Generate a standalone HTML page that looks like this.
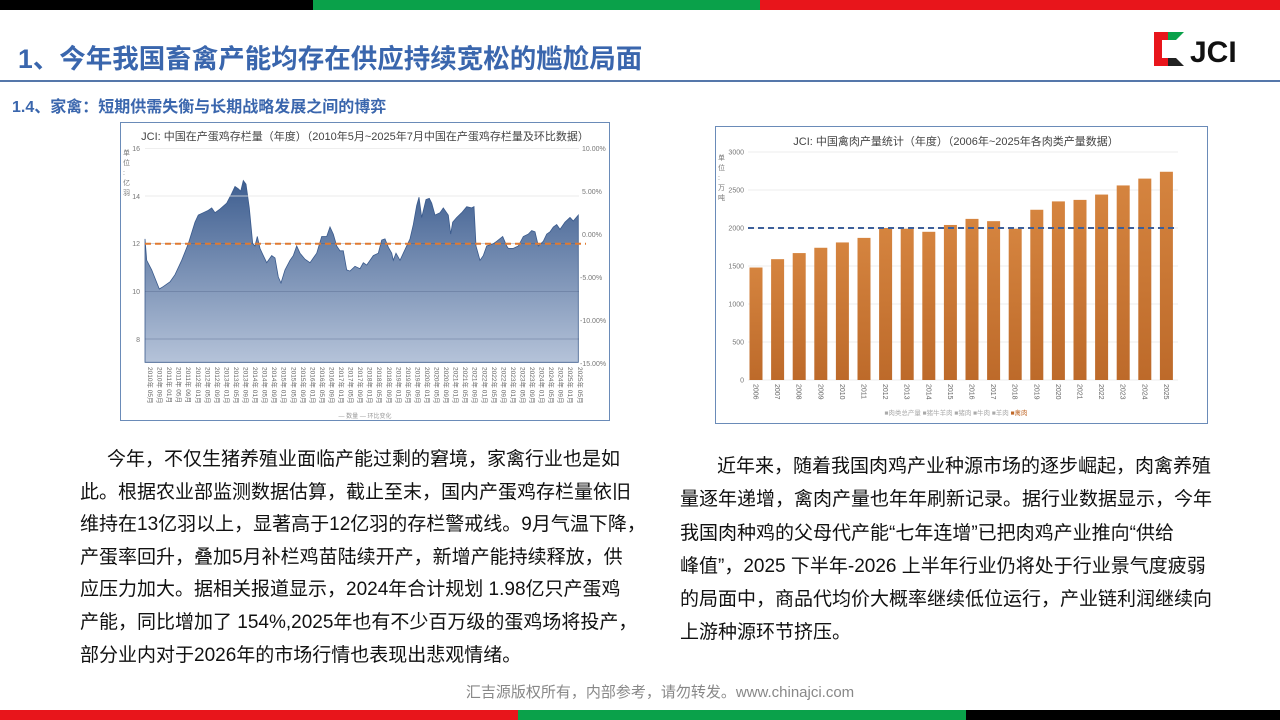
<!DOCTYPE html>
<html><head><meta charset="utf-8">
<style>
*{margin:0;padding:0;box-sizing:border-box}
body{width:1280px;height:720px;position:relative;background:#fff;overflow:hidden;font-family:"Liberation Sans","Noto Sans CJK SC",sans-serif}
.a{position:absolute}
.t{color:#3a66ad;font-weight:bold}
.p{font-size:19px;color:#111;line-height:32.6px;white-space:nowrap}
</style></head><body>
<div class="a" style="left:0;top:0;width:313px;height:10px;background:#000"></div>
<div class="a" style="left:313px;top:0;width:447px;height:10px;background:#0aa14a"></div>
<div class="a" style="left:760px;top:0;width:520px;height:10px;background:#e8151b"></div>
<div class="a" style="left:0;top:710px;width:518px;height:10px;background:#e8151b"></div>
<div class="a" style="left:518px;top:710px;width:448px;height:10px;background:#0aa14a"></div>
<div class="a" style="left:966px;top:710px;width:314px;height:10px;background:#000"></div>
<div class="a t" style="left:18px;top:37px;font-size:26.5px;white-space:nowrap">1、今年我国畜禽产能均存在供应持续宽松的尴尬局面</div>
<div class="a" style="left:0;top:80px;width:1280px;height:2px;background:#5577aa"></div>
<div class="a t" style="left:12px;top:93px;font-size:16px;white-space:nowrap">1.4、家禽：短期供需失衡与长期战略发展之间的博弈</div>
<svg class="a" style="left:1150px;top:30px" width="115" height="42" viewBox="0 0 115 42">
<path d="M4 2h22v8H12v18h14v8H4z" fill="#e8151b"/>
<path d="M18 2h16l-8 8h-8z" fill="#0aa14a"/><path d="M18 36h16l-8-8h-8z" fill="#222"/>
<text x="40" y="32" font-size="30" font-weight="bold" font-family="Liberation Sans" fill="#111">JCI</text>
</svg>
<svg class="a" style="left:120px;top:120px" width="490" height="302">
<rect x="0.5" y="2.5" width="489" height="298" fill="#fff" stroke="#6a8bb8"/>
<text x="245" y="20" text-anchor="middle" font-size="11" fill="#444">JCI: 中国在产蛋鸡存栏量（年度）（2010年5月~2025年7月中国在产蛋鸡存栏量及环比数据）</text>
<g font-size="7" fill="#777"><text x="20" y="31" text-anchor="end">16</text><text x="20" y="79" text-anchor="end">14</text><text x="20" y="126" text-anchor="end">12</text><text x="20" y="174" text-anchor="end">10</text><text x="20" y="222" text-anchor="end">8</text>
<text x="462" y="31">10.00%</text><text x="462" y="74">5.00%</text><text x="462" y="117">0.00%</text><text x="460" y="160">-5.00%</text><text x="460" y="203">-10.00%</text><text x="460" y="246">-15.00%</text>
<text x="3" y="35">单</text><text x="3" y="45">位</text><text x="3" y="55">:</text><text x="3" y="65">亿</text><text x="3" y="75">羽</text></g>
<defs><linearGradient id="g" x1="0" y1="0" x2="0" y2="1"><stop offset="0" stop-color="#3e5e90"/><stop offset="1" stop-color="#b5c3d9"/></linearGradient></defs>
<path id="ar" fill="url(#g)" stroke="#3a5a8c" stroke-width="0.8"/>
<g id="gl"></g>
<line x1="25" x2="466" y1="123.7" y2="123.7" stroke="#e07a30" stroke-width="2" stroke-dasharray="6,4"/>
<g id="xl" font-size="6.5" fill="#666"></g>
<text x="245" y="298" font-size="6" fill="#999" text-anchor="middle">— 数量 — 环比变化</text>
</svg>
<svg class="a" style="left:715px;top:125px" width="493" height="300">
<rect x="0.5" y="1.5" width="492" height="297" fill="#fff" stroke="#6a8bb8"/>
<text x="241" y="20" text-anchor="middle" font-size="11" fill="#444">JCI: 中国禽肉产量统计（年度）（2006年~2025年各肉类产量数据）</text>
<g id="rg" font-size="7" fill="#777"></g>
<g font-size="7" fill="#777"><text x="3" y="35">单</text><text x="3" y="45">位</text><text x="3" y="55">:</text><text x="3" y="65">万</text><text x="3" y="75">吨</text></g>
<g id="bars"></g>
<line x1="33" x2="463" y1="103" y2="103" stroke="#3c5f9a" stroke-width="2" stroke-dasharray="6,4"/>
<text x="241" y="290" font-size="6.5" fill="#aaa" text-anchor="middle">■肉类总产量 ■猪牛羊肉 ■猪肉 ■牛肉 ■羊肉 <tspan fill="#c0692a">■禽肉</tspan></text>
</svg>
<div class="a p" style="left:80px;top:444px"><span style="padding-left:27px">今年，不仅生猪养殖业面临产能过剩的窘境，家禽行业也是如</span><br>此。根据农业部监测数据估算，截止至末，国内产蛋鸡存栏量依旧<br>维持在13亿羽以上，显著高于12亿羽的存栏警戒线。9月气温下降，<br>产蛋率回升，叠加5月补栏鸡苗陆续开产，新增产能持续释放，供<br>应压力加大。据相关报道显示，2024年合计规划 1.98亿只产蛋鸡<br>产能，同比增加了 154%,2025年也有不少百万级的蛋鸡场将投产，<br>部分业内对于2026年的市场行情也表现出悲观情绪。</div>
<div class="a p" style="left:680px;top:450px;line-height:33.3px"><span style="padding-left:37px">近年来，随着我国肉鸡产业种源市场的逐步崛起，肉禽养殖</span><br>量逐年递增，禽肉产量也年年刷新记录。据行业数据显示，今年<br>我国肉种鸡的父母代产能“七年连增”已把肉鸡产业推向“供给<br>峰值”，2025 下半年-2026 上半年行业仍将处于行业景气度疲弱<br>的局面中，商品代均价大概率继续低位运行，产业链利润继续向<br>上游种源环节挤压。</div>
<div class="a" style="left:0;width:1320px;top:681px;text-align:center;font-size:15px;color:#888">汇吉源版权所有，内部参考，请勿转发。www.chinajci.com</div>
<script>
var d=[[75,12.2],[80,11.3],[95,10.9],[118,10.1],[130,10.2],[150,10.4],[165,10.7],[185,11.3],[205,12.0],[225,12.9],[235,13.2],[250,13.3],[265,13.4],[275,13.5],[285,13.3],[300,13.45],[320,13.7],[335,14.1],[345,14.4],[355,14.3],[362,14.2],[370,14.65],[378,14.5],[388,13.5],[398,12.0],[405,11.9],[412,12.3],[420,11.8],[430,11.5],[440,11.2],[455,11.5],[465,11.4],[475,10.6],[483,10.35],[495,10.9],[510,11.3],[520,11.5],[530,11.9],[540,11.6],[555,11.35],[570,11.2],[580,11.4],[590,11.6],[605,12.3],[620,12.3],[630,12.7],[640,12.4],[650,11.9],[660,11.7],[670,11.7],[680,10.9],[690,10.85],[705,11.05],[720,10.95],[730,11.2],[740,11.1],[760,11.5],[775,11.6],[785,12.15],[795,12.2],[805,11.85],[815,11.6],[820,11.3],[828,11.6],[840,11.3],[850,11.6],[870,12.2],[880,12.8],[890,13.6],[897,13.95],[905,13.1],[918,13.85],[928,13.9],[935,13.7],[945,13.2],[960,13.3],[970,13.5],[985,13.2],[992,12.4],[998,12.9],[1010,13.1],[1025,13.3],[1040,13.55],[1055,13.5],[1062,13.55],[1068,11.9],[1080,11.3],[1090,11.5],[1100,11.9],[1120,12.0],[1130,12.1],[1148,12.3],[1160,11.9],[1165,11.8],[1180,11.8],[1195,11.9],[1210,12.3],[1225,12.4],[1235,12.55],[1245,12.5],[1255,11.9],[1270,12.1],[1280,12.4],[1290,12.5],[1300,12.7],[1310,12.8],[1320,12.6],[1335,12.9],[1350,13.1],[1360,12.95],[1375,13.2]];
function Y(v){return (85+(16-v)*71.5)/3}
var s="M25 "+(727/3);d.forEach(function(p){s+=" L"+(p[0]/3).toFixed(1)+" "+Y(p[1]).toFixed(1)});s+=" L"+(1375/3).toFixed(1)+" "+(727/3)+"Z";
document.getElementById("ar").setAttribute("d",s);
var gl="";[16,14,12,10,8].forEach(function(v){gl+='<line x1="25" x2="459" y1="'+Y(v)+'" y2="'+Y(v)+'" stroke="'+(v==16||v==14?'#e4e4e4':'rgba(40,60,100,0.35)')+'" stroke-width="0.7"/>'});
document.getElementById("gl").innerHTML=gl;
var xl="",mm=["05","09","01"],yr=2010;for(var i=0;i<46;i++){var m=mm[i%3];if(m=="01"&&i>0)yr++;var x=25+i*9.55+3;xl+='<text transform="translate('+x+',247) rotate(90)">'+yr+'年 '+m+'月</text>';}
document.getElementById("xl").innerHTML=xl;
var v=[1480,1590,1670,1740,1810,1870,2000,1990,1950,2040,2120,2090,1990,2240,2350,2370,2440,2560,2650,2740];
function RY(x){return 255-x*228/3000}
var g="";[0,500,1000,1500,2000,2500,3000].forEach(function(t){g+='<line x1="33" x2="463" y1="'+RY(t)+'" y2="'+RY(t)+'" stroke="#e6e6e6" stroke-width="0.7"/><text x="29" y="'+(RY(t)+2.5)+'" text-anchor="end">'+t+'</text>'});
document.getElementById("rg").innerHTML=g;
var b='<defs><linearGradient id="bg" x1="0" y1="0" x2="0" y2="1"><stop offset="0" stop-color="#d5843f"/><stop offset="1" stop-color="#bd6a2a"/></linearGradient></defs>';
v.forEach(function(t,i){var cx=41+i*21.6;b+='<rect x="'+(cx-6.5)+'" y="'+RY(t)+'" width="13" height="'+(255-RY(t))+'" fill="url(#bg)"/><text font-size="7" fill="#666" transform="translate('+(cx-2.5)+',259) rotate(90)">'+(2006+i)+'</text>'});
document.getElementById("bars").innerHTML=b;
</script>
</body></html>
